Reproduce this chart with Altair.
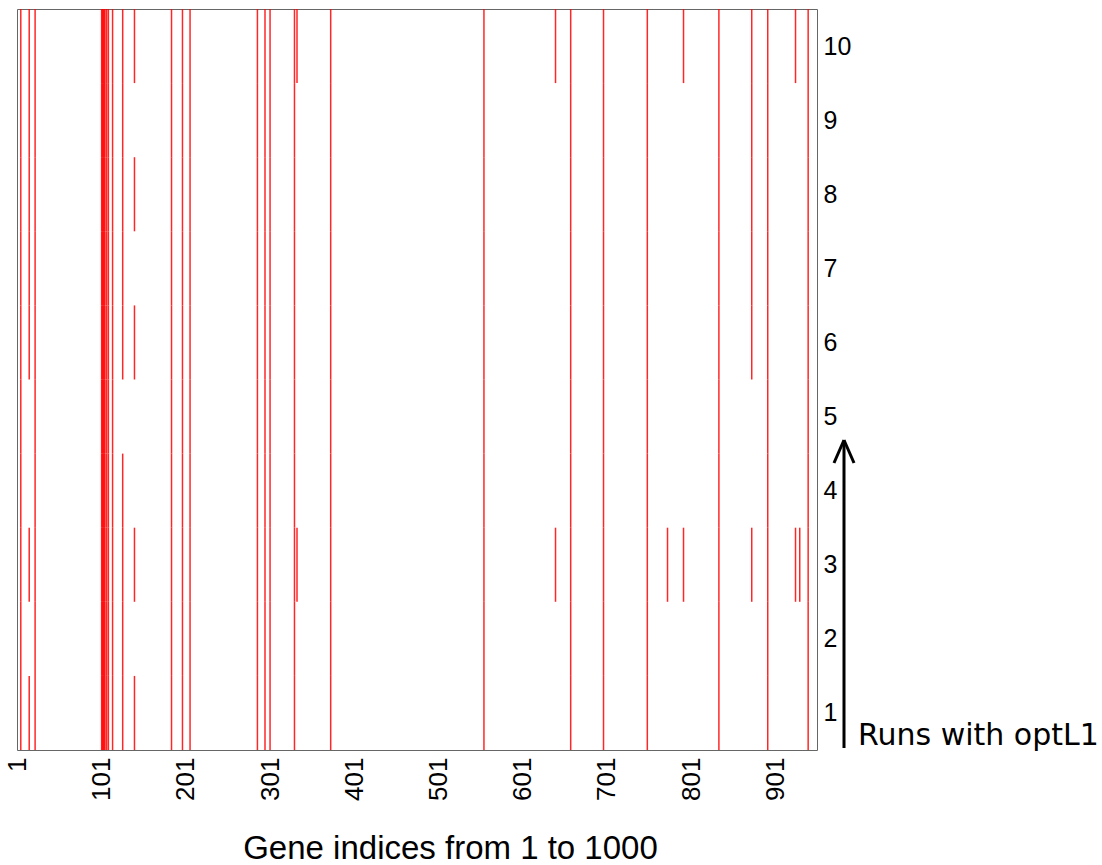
import altair as alt
import pandas as pd

# Genes selected (columns) and the runs (rows) in which they were selected
ALL = list(range(1, 11))
gene_ids = [5, 15, 22, 101, 102, 103, 104, 105, 107, 109, 114, 126, 140,
            184, 197, 206, 286, 295, 301, 330, 333, 373, 555, 640, 658,
            697, 749, 773, 792, 834, 873, 892, 925, 930, 940]
gene_runs = [ALL, [1, 3, 6, 7, 8, 9, 10], ALL, ALL, ALL, ALL, ALL, ALL, ALL, ALL,
             ALL, [1, 2, 3, 4, 6, 7, 8, 9, 10], [1, 3, 6, 8, 10],
             ALL, ALL, ALL, ALL, ALL, ALL, ALL, [3, 10], ALL, ALL, [3, 10], ALL,
             ALL, ALL, [3], [3, 10], ALL, [3, 6, 7, 8, 9, 10], ALL, [3, 10], [3], ALL]

run_ticks = list(range(1, 11))
gene_ticks = [1, 101, 201, 301, 401, 501, 601, 701, 801, 901]
n_genes = 950

rows = []
for g, rs in zip(gene_ids, gene_runs):
    for r in rs:
        rows.append({"gene": g, "run": r, "r0": r - 0.5, "r1": r + 0.5})
df = pd.DataFrame(rows)

xscale = alt.Scale(domain=[0.5, n_genes + 0.5], nice=False, zero=False)
yscale = alt.Scale(domain=[0.5, 10.5], nice=False, zero=False)

cells = alt.Chart(df).mark_rule(color="#FF0000", strokeWidth=1.5, opacity=0.85).encode(
    x=alt.X("gene:Q", scale=xscale,
            axis=alt.Axis(values=gene_ticks, labelAngle=270, ticks=False, domain=False,
                          grid=False, labelFontSize=26, labelFont="Liberation Sans",
                          labelColor="black", labelPadding=7,
                          title="Gene indices from 1 to 1000", titleFontSize=33,
                          titleFont="Liberation Sans", titleFontWeight="normal",
                          titleColor="black", titleX=433, titleY=98,
                          titleAlign="center", titleBaseline="middle")),
    y=alt.Y("r0:Q", scale=yscale,
            axis=alt.Axis(orient="right", values=run_ticks, ticks=False, domain=False,
                          grid=False, labelFontSize=25, labelFont="Liberation Sans",
                          labelColor="black", labelPadding=6, title=None)),
    y2="r1:Q",
)

one = pd.DataFrame({"a": [0]})
shaft = alt.Chart(one).mark_rule(color="black", strokeWidth=3).encode(
    x=alt.value(827), y=alt.value(739), y2=alt.value(432))
head_l = alt.Chart(one).mark_rule(color="black", strokeWidth=3).encode(
    x=alt.value(817), x2=alt.value(827), y=alt.value(454), y2=alt.value(431))
head_r = alt.Chart(one).mark_rule(color="black", strokeWidth=3).encode(
    x=alt.value(837), x2=alt.value(827), y=alt.value(454), y2=alt.value(431))
label = alt.Chart(pd.DataFrame({"t": ["Runs with optL1"]})).mark_text(
    align="left", baseline="alphabetic", font="DejaVu Sans", fontSize=30, color="black"
).encode(x=alt.value(841), y=alt.value(736), text="t:N")

chart = alt.layer(cells, shaft, head_l, head_r, label).properties(
    width=800, height=741,
    autosize=alt.AutoSizeParams(type="none"),
    padding={"left": 17, "top": 9, "right": 285, "bottom": 115},
    background="white",
).configure_view(stroke="#666666", strokeWidth=1)

chart.save("out.html", embed_options={"renderer": "svg", "actions": False})
